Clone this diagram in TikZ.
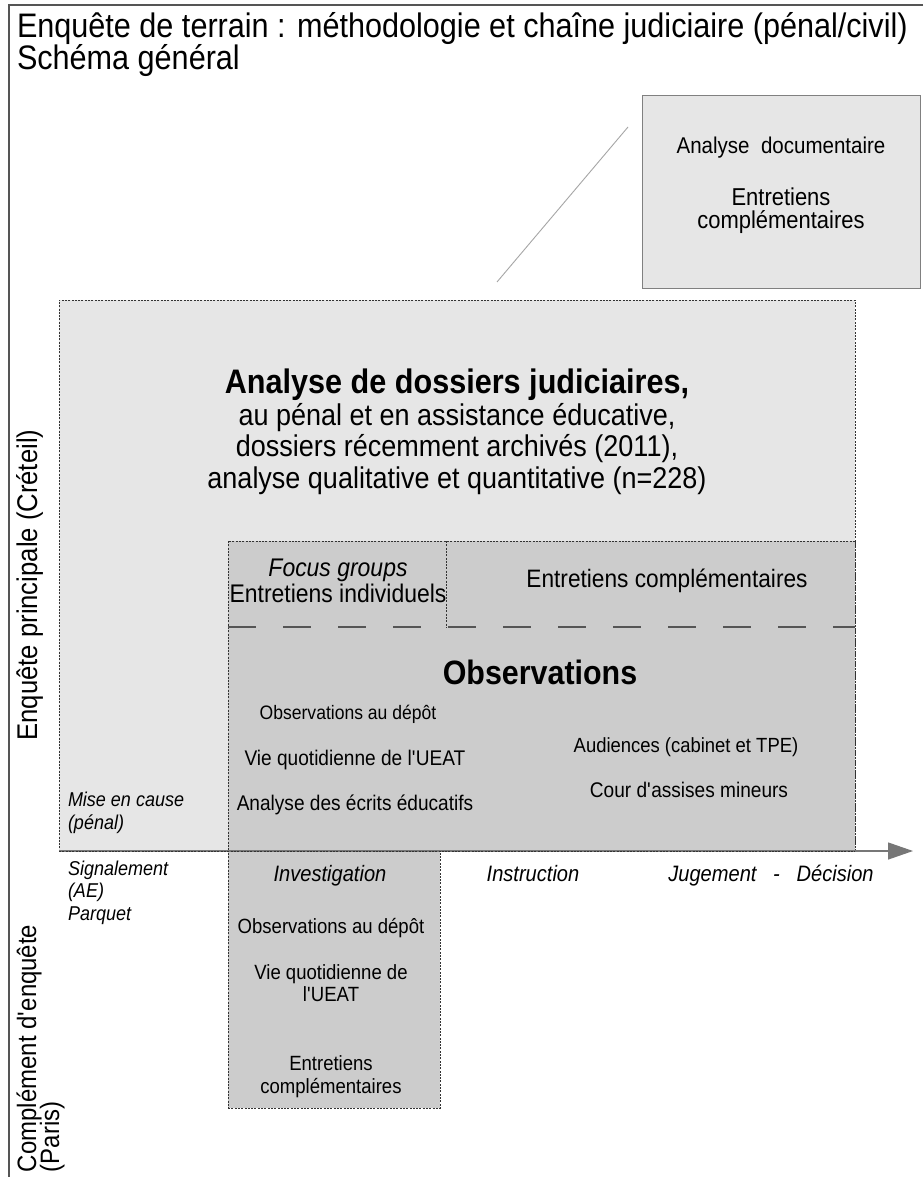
\documentclass[tikz,border=0pt]{standalone}
\usepackage{fontspec}
\setmainfont{Liberation Sans}[FakeStretch=0.9]
\usetikzlibrary{arrows.meta}
\definecolor{lightfill}{HTML}{E6E6E6}
\definecolor{midfill}{HTML}{CCCCCC}
\definecolor{framecol}{HTML}{555555}
\definecolor{arrowcol}{HTML}{777777}
\newcommand\fsz[1]{\fontsize{#1}{#1}\selectfont}
\begin{document}
\begin{tikzpicture}[x=1pt,y=-1pt,
  every node/.style={inner sep=0pt, outer sep=0pt},
  dotline/.style={draw=black!80, line width=0.8pt, dash pattern=on 2pt off 1.3pt},
  dotbox/.style={dotline, rectangle, anchor=north west},
  lbl/.style={anchor=base, text=black},
  lblw/.style={anchor=base west, text=black},
  rot/.style={rotate=90, text=black},
]
\useasboundingbox (0,0) rectangle (923,1177);
\fill[white] (0,0) rectangle (923,1177);
\draw[framecol, line width=1.5pt] (923,5) -- (9,5) -- (9,1177);

% title
\node[lblw, font=\fsz{34}] (t1) at (17,38) {Enquête de terrain : méthodologie et chaîne judiciaire (pénal/civil)};
\node[lblw, font=\fsz{34}] (t2) at (17,70) {Schéma général};

% top-right box
\node[fill=lightfill, draw=gray, line width=0.8pt, anchor=north west, minimum width=278, minimum height=193] (doc) at (642,95) {};
\node[lbl, font=\fsz{22.8}] (ad) at (doc.north |- 0,154) {Analyse\ \ documentaire};
\node[lbl, font=\fsz{24.4}] (ec1) at (doc.north |- 0,205) {Entretiens};
\node[lbl, font=\fsz{24.4}] (ec2) at (doc.north |- 0,228) {complémentaires};

\coordinate (d1) at (497,282);
\coordinate (d2) at (628,127);
\draw[gray!70, line width=0.9pt] (d1) -- (d2);

% big box
\node[dotbox, fill=lightfill, minimum width=796, minimum height=551] (big) at (59,300) {};
% inner box
\node[dotbox, fill=midfill, minimum width=627, minimum height=310] (inner) at (228,541) {};
% lower box
\node[dotbox, fill=midfill, minimum width=212, minimum height=257] (lower) at (228,851) {};

\coordinate (divtop) at (446,541);
\coordinate (divbot) at (446,627);
\draw[dotline] (divtop) -- (divbot);
\draw[draw=framecol, line width=1.3pt, dash pattern=on 28pt off 27pt] (inner.west |- 0,627) -- (inner.east |- 0,627);

% timeline arrow
\coordinate (arrend) at (913,851);
\draw[arrowcol, line width=1.3pt, -{Triangle[length=25pt,width=17pt]}] (big.south west) -- (arrend);
\draw[dotline] (big.south west) -- (big.south east);

% heading
\node[lbl, font=\fsz{34}\bfseries] (h1) at (457,393) {Analyse de dossiers judiciaires,};
\node[lbl, font=\fsz{30}] (h2) at (457,425) {au pénal et en assistance éducative,};
\node[lbl, font=\fsz{30}] (h3) at (457,456) {dossiers récemment archivés (2011),};
\node[lbl, font=\fsz{30}] (h4) at (457,488) {analyse qualitative et quantitative (n=228)};

% focus / entretiens
\node[lbl, font=\fsz{25.5}\itshape] (fg) at (338,576) {Focus groups};
\node[lbl, font=\fsz{25.5}] (ei) at (338,602) {Entretiens individuels};
\node[lbl, font=\fsz{25.2}] (ecp) at (667,587) {Entretiens complémentaires};

% observations
\node[lbl, font=\fsz{33.8}\bfseries] (obs) at (540,684) {Observations};
\node[lbl, font=\fsz{19.5}] (o1) at (348,719) {Observations au dépôt};
\node[lbl, font=\fsz{21.2}] (o2) at (355,765) {Vie quotidienne de l\textquotesingle UEAT};
\node[lbl, font=\fsz{21.2}] (o3) at (355,810) {Analyse des écrits éducatifs};
\node[lbl, font=\fsz{20.5}] (o4) at (686,752) {Audiences (cabinet et TPE)};
\node[lbl, font=\fsz{21.2}] (o5) at (689,797) {Cour d\textquotesingle assises mineurs};

% left italic labels
\node[lblw, font=\fsz{20}\itshape] (mc1) at (68,806) {Mise en cause};
\node[lblw, font=\fsz{20}\itshape] (mc2) at (68,829) {(pénal)};
\node[lblw, font=\fsz{20}\itshape] (sg1) at (68,875) {Signalement};
\node[lblw, font=\fsz{20}\itshape] (sg2) at (68,897) {(AE)};
\node[lblw, font=\fsz{20}\itshape] (sg3) at (68,920) {Parquet};

% phases
\node[lbl, font=\fsz{22.3}\itshape] (inv) at (330,881) {Investigation};
\node[lbl, font=\fsz{22.3}\itshape] (ins) at (533,881) {Instruction};
\node[lbl, font=\fsz{22.3}\itshape] (jd) at (771,881) {Jugement\ \ \ -\ \ \ Décision};

% lower box content
\node[lbl, font=\fsz{20.6}] (l1) at (331,933) {Observations au dépôt};
\node[lbl, font=\fsz{20.6}] (l2) at (331,979) {Vie quotidienne de};
\node[lbl, font=\fsz{20.6}] (l3) at (331,1001) {l\textquotesingle UEAT};
\node[lbl, font=\fsz{20.6}] (l4) at (331,1070) {Entretiens};
\node[lbl, font=\fsz{20.6}] (l5) at (331,1093) {complémentaires};

% rotated side labels
\node[rot, anchor=base, font=\fsz{28.5}] (ep) at (37,585) {Enquête principale (Créteil)};
\node[rot, anchor=base west, font=\fsz{26.6}] (ce1) at (36,1172) {Complément d\textquotesingle enquête};
\node[rot, anchor=base west, font=\fsz{26.6}] (ce2) at (59,1172) {(Paris)};
\end{tikzpicture}
\end{document}
